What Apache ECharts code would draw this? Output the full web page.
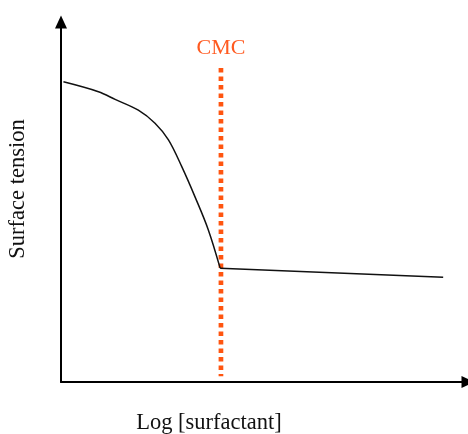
<!DOCTYPE html>
<html><head><meta charset="utf-8">
<script src="https://cdn.jsdelivr.net/npm/echarts@6/dist/echarts.min.js"></script>
<style>html,body{margin:0;padding:0;background:#fff}#c{width:468px;height:434px}</style>
</head><body><div id="c"></div>
<script>
const logConc = [0.06, 0.92, 1.33, 1.90, 2.31, 2.64, 2.97, 3.29, 3.62, 3.91];
const tension = [66.7, 64.5, 62.8, 60.4, 57.5, 53.8, 47.8, 41.2, 33.8, 25.3];
const plateauX = [3.91, 9.39];
const plateauY = [25.3, 23.3];
const cmcX = [3.93, 3.93];
const cmcY = [69.8, 1.3];
const xLabel = 'Log [surfactant]';
const yLabel = 'Surface tension';
const cmcLabel = 'CMC';

const chart = echarts.init(document.getElementById('c'), null, {renderer: 'canvas'});
const font = '"Liberation Serif", "Times New Roman", serif';
const axisCommon = {
  type: 'value',
  axisLine: {show: true, lineStyle: {color: '#000', width: 2}, symbol: ['none', 'triangle'], symbolSize: [12, 13]},
  axisTick: {show: false},
  axisLabel: {show: false},
  splitLine: {show: false}
};
chart.setOption({
  animation: false,
  backgroundColor: '#fff',
  grid: {left: 61, right: 0, top: 22, bottom: 52},
  xAxis: Object.assign({}, axisCommon, {min: 0, max: 10}),
  yAxis: Object.assign({}, axisCommon, {min: 0, max: 80}),
  graphic: [
    {type: 'text', x: 18, y: 189, rotation: Math.PI / 2,
     style: {text: yLabel, font: '22.5px ' + font, fill: '#111', align: 'center', verticalAlign: 'middle'}},
    {type: 'text', x: 209, y: 423,
     style: {text: xLabel, font: '22.5px ' + font, fill: '#111', align: 'center', verticalAlign: 'middle'}}
  ],
  series: [
    {
      type: 'line',
      data: logConc.map((x, i) => [x, tension[i]]),
      showSymbol: false, symbol: 'none', smooth: 0.35,
      lineStyle: {color: '#111', width: 1.5},
      z: 3
    },
    {
      type: 'line',
      data: plateauX.map((x, i) => [x, plateauY[i]]),
      showSymbol: false, symbol: 'none',
      lineStyle: {color: '#111', width: 1.5},
      z: 3
    },
    {
      type: 'line',
      data: cmcX.map((x, i) => i === 0 ? {value: [x, cmcY[i]], label: {show: true}} : [x, cmcY[i]]),
      symbol: 'circle', symbolSize: 0, showSymbol: true,
      itemStyle: {color: 'rgba(0,0,0,0)'},
      label: {show: false, position: 'top', distance: 9, formatter: cmcLabel,
              color: '#ff5a20', fontFamily: font, fontSize: 22},
      lineStyle: {color: '#ff5510', width: 4.7, type: [4.5, 4], cap: 'butt'},
      z: 2
    }
  ]
});
</script></body></html>
